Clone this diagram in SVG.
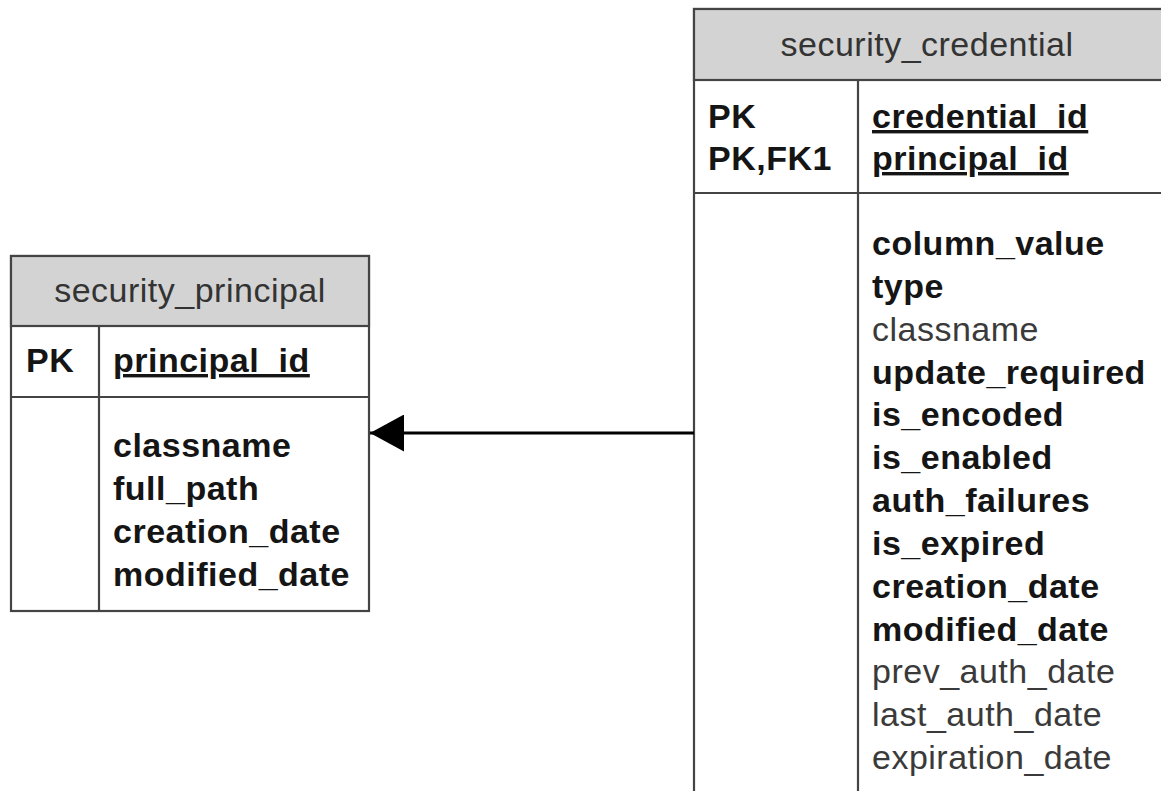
<svg xmlns="http://www.w3.org/2000/svg" width="1161" height="791" viewBox="0 0 1161 791">
<defs>
<style>
.box{fill:#ffffff;stroke:#444444;stroke-width:2.2}
.hdr{fill:#d3d3d3;stroke:#444444;stroke-width:2.2}
.ln{stroke:#444444;stroke-width:2.2;fill:none}
text{font-family:"Liberation Sans",Arial,sans-serif;font-size:34px;letter-spacing:0.5px}
.title{fill:#333333;text-anchor:middle}
.b{font-weight:bold;fill:#151515}
.r{fill:#3a3a3a}
.u{text-decoration:underline}
.conn{stroke:#000000;stroke-width:3;fill:none}
</style>
<marker id="arrow" viewBox="0 0 34 37" refX="34" refY="18.5" markerWidth="34" markerHeight="37" markerUnits="userSpaceOnUse" orient="auto">
<path d="M0,0 L34,18.5 L0,37 Z" fill="#000000"/>
</marker>
</defs>
<rect width="1161" height="791" fill="#ffffff"/>

<g id="security_principal">
<rect class="box" x="11" y="256" width="358" height="355"/>
<rect class="hdr" x="11" y="256" width="358" height="70"/>
<line class="ln" x1="11" y1="397" x2="369" y2="397"/>
<line class="ln" x1="99" y1="326" x2="99" y2="611"/>
<text class="title" x="190" y="302">security_principal</text>
<text class="b" x="26" y="372">PK</text>
<text class="b u" x="113" y="372">principal_id</text>
<text class="b" x="113" y="457">classname</text>
<text class="b" x="113" y="500">full_path</text>
<text class="b" x="113" y="543">creation_date</text>
<text class="b" x="113" y="586">modified_date</text>
</g>

<g id="security_credential">
<rect class="box" x="694" y="9" width="480" height="800"/>
<rect class="hdr" x="694" y="9" width="480" height="71"/>
<line class="ln" x1="694" y1="193" x2="1174" y2="193"/>
<line class="ln" x1="858" y1="80" x2="858" y2="809"/>
<text class="title" x="927" y="56">security_credential</text>
<text class="b" x="708" y="128">PK</text>
<text class="b" x="708" y="170">PK,FK1</text>
<text class="b u" x="872" y="128">credential_id</text>
<text class="b u" x="872" y="170">principal_id</text>
<text class="b" x="872" y="255">column_value</text>
<text class="b" x="872" y="297.8">type</text>
<text class="r" x="872" y="340.7">classname</text>
<text class="b" x="872" y="383.5">update_required</text>
<text class="b" x="872" y="426.3">is_encoded</text>
<text class="b" x="872" y="469.2">is_enabled</text>
<text class="b" x="872" y="512">auth_failures</text>
<text class="b" x="872" y="554.8">is_expired</text>
<text class="b" x="872" y="597.6">creation_date</text>
<text class="b" x="872" y="640.5">modified_date</text>
<text class="r" x="872" y="683.3">prev_auth_date</text>
<text class="r" x="872" y="726.1">last_auth_date</text>
<text class="r" x="872" y="769">expiration_date</text>
</g>

<g id="connectors">
<line class="conn" x1="694" y1="433" x2="370" y2="433" marker-end="url(#arrow)"/>
</g>
</svg>
